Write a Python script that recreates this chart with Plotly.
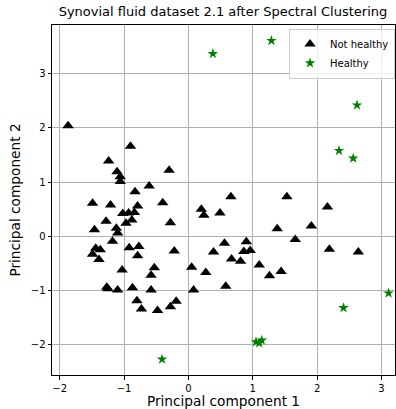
import plotly.graph_objects as go

# Not healthy cluster (black triangles)
nh_x = [-1.87, -0.90, -1.24, -1.11, -1.06, -1.06, -0.30, -0.61, -0.83, -1.49,
        -1.21, -0.40, -0.79, 0.20, 0.24, 0.49, 0.66, -1.02, -0.93, -0.84,
        -0.88, -0.97, -1.28, -1.12, -1.10, -1.46, -0.28, -1.18, -1.44, -1.37,
        -1.49, -1.39, -0.92, -0.77, -0.79, -0.22, -1.03, -0.53, -0.58, 0.05,
        0.27, -1.25, -1.10, -0.87, -0.58, 0.08, -0.80, -0.73, -0.48, -0.28,
        -0.19, 1.38, 1.91, 2.16, 1.66, 2.19, 0.56, 0.90, 0.86, 0.96,
        0.39, 0.67, 0.81, 1.10, 1.26, 1.44, 0.58, 2.64, 1.53, -1.27]
nh_y = [2.04, 1.66, 1.39, 1.19, 1.10, 1.01, 1.22, 0.93, 0.82, 0.61,
        0.58, 0.62, 0.56, 0.50, 0.39, 0.43, 0.73, 0.42, 0.43, 0.44,
        0.30, 0.24, 0.28, 0.15, 0.06, 0.12, 0.25, -0.09, -0.22, -0.25,
        -0.33, -0.43, -0.21, -0.19, -0.36, -0.27, -0.62, -0.58, -0.72, -0.57,
        -0.67, -0.97, -0.99, -0.95, -0.99, -0.99, -1.19, -1.34, -1.37, -1.30,
        -1.20, 0.14, 0.19, 0.54, -0.06, -0.24, -0.13, -0.10, -0.28, -0.26,
        -0.29, -0.42, -0.46, -0.53, -0.73, -0.65, -0.92, -0.29, 0.73, -0.94]

# Healthy cluster (green stars)
h_x = [0.38, 1.29, 2.62, 2.34, 2.56, 3.11, 2.41, 1.05, 1.10, 1.14, -0.41]
h_y = [3.37, 3.61, 2.42, 1.58, 1.44, -1.05, -1.32, -1.95, -1.97, -1.92, -2.27]

x_ticks = [-2, -1, 0, 1, 2, 3]
y_ticks = [-2, -1, 0, 1, 2, 3]

fig = go.Figure()
fig.add_trace(go.Scatter(x=nh_x, y=nh_y, mode="markers", name="Not healthy",
                         marker=dict(symbol="triangle-up", size=10, color="black",
                                     line=dict(width=0))))
fig.add_trace(go.Scatter(x=h_x, y=h_y, mode="markers", name="Healthy",
                         marker=dict(symbol="star", size=8, color="green",
                                     line=dict(width=0))))

axis_common = dict(showgrid=True, gridcolor="#b0b0b0", gridwidth=1,
                   showline=True, linecolor="black", linewidth=1, mirror=True,
                   ticks="outside", ticklen=3.5, tickcolor="black",
                   zeroline=False, automargin=False,
                   tickfont=dict(family="DejaVu Sans", size=10, color="black"))

fig.update_layout(
    width=396, height=409,
    margin=dict(l=52, r=1, t=25, b=34, autoexpand=False),
    paper_bgcolor="white", plot_bgcolor="white",
    title=dict(text="Synovial fluid dataset 2.1 after Spectral Clustering",
               font=dict(family="DejaVu Sans", size=13.0, color="black"),
               x=0.563, xanchor="center", y=0.982, yanchor="top", automargin=False),
    xaxis=dict(range=[-2.12, 3.21], tickvals=x_ticks,
               title=dict(text="Principal component 1", standoff=4,
                          font=dict(family="DejaVu Sans", size=13.7, color="black")),
               **axis_common),
    yaxis=dict(range=[-2.56, 3.90], tickvals=y_ticks,
               title=dict(text="Principal component 2", standoff=6,
                          font=dict(family="DejaVu Sans", size=13.7, color="black")),
               **axis_common),
    legend=dict(x=1.0, xanchor="right", y=0.99, yanchor="top",
                bgcolor="rgba(255,255,255,0.8)", bordercolor="#cccccc", borderwidth=1,
                font=dict(family="DejaVu Sans", size=10, color="black"),
                itemwidth=30, tracegroupgap=0),
    showlegend=True,
)

fig.write_html("out.html")
